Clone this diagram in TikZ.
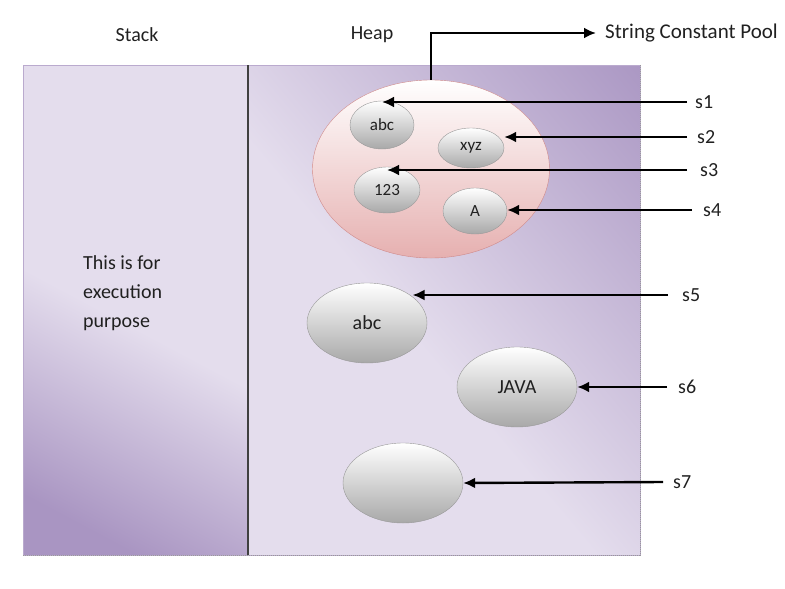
\documentclass[tikz,border=0pt]{standalone}
\usepackage{fontspec}
\setmainfont{Carlito}
\usetikzlibrary{shapes.geometric, arrows.meta}

\definecolor{lilacD}{HTML}{A995C2}
\definecolor{lilacL}{HTML}{E4DDED}
\definecolor{poolD}{HTML}{E6B0B0}
\definecolor{poolB}{HTML}{D08A8A}
\definecolor{ink}{HTML}{202020}

\pgfdeclareverticalshading{stackfade}{100bp}{color(0bp)=(lilacD); color(36.5bp)=(lilacD); color(49bp)=(lilacL); color(100bp)=(lilacL)}
\pgfdeclareverticalshading{heapfade}{100bp}{color(0bp)=(lilacL); color(47.4bp)=(lilacL); color(70bp)=(lilacD); color(100bp)=(lilacD)}

\tikzset{
  cell/.style={ellipse, draw=gray!80, top color=white, bottom color=gray!68, inner sep=0pt, text=ink},
  ref/.style={line width=2.4pt, -{Latex[length=12pt, width=11pt]}},
  lbl/.style={anchor=west, inner xsep=10pt, text=ink, font=\fontsize{20}{22}\selectfont},
  ttl/.style={text=ink, font=\fontsize{20}{22}\selectfont},
}

\begin{document}
\begin{tikzpicture}[x=1pt, y=-1pt]
    \useasboundingbox (0,0) rectangle (785,589);

    % Stack
    \begin{scope}
      \clip (23,65) rectangle (248,555);
      \shade [shading=stackfade, transform canvas={rotate around={-28:(136,310)}}] (-264,-90) rectangle (536,710);
    \end{scope}

    % Heap
    \begin{scope}
      \clip (248,65) rectangle (640,555);
      \shade [shading=heapfade, transform canvas={rotate around={-50:(444,310)}}] (44,-90) rectangle (844,710);
    \end{scope}
    \draw [lilacD!80, line width=0.8pt] (23,65) rectangle (640,555);
    \draw [gray!80, densely dotted, line width=1pt] (23,555) -- (640,555) -- (640,65);
    \draw [black!75, line width=1.2pt] (248,65) -- (248,555);
    \node [ttl] (stack) at (137,35) {Stack};
    \node [ttl] (heap) at (372,35) {Heap};
    \node [ttl, anchor=north west, inner sep=0pt, align=left, font=\fontsize{20}{29}\selectfont] (note) at (83,255) {This is for\\execution\\purpose};

    % String Constant Pool
    \node [ellipse, draw=poolB, top color=white, bottom color=poolD, minimum width=237pt, minimum height=178pt] (pool) at (431,169) {};
    \node [ttl, anchor=west, inner xsep=9pt, font=\fontsize{21}{23}\selectfont] (scp) at (596,33) {String Constant Pool};
    \draw [ref] (pool.north) |- (scp.west);

    \node [cell, minimum width=64pt, minimum height=48pt, font=\fontsize{17}{19}\selectfont] (abc) at (382,125) {abc};
    \node [cell, minimum width=66pt, minimum height=40pt, font=\fontsize{17}{19}\selectfont] (xyz) at (471,148) {xyz};
    \node [cell, minimum width=66pt, minimum height=46pt, font=\fontsize{17}{19}\selectfont] (n123) at (387,190) {123};
    \node [cell, minimum width=64pt, minimum height=46pt, font=\fontsize{17}{19}\selectfont] (A) at (475,211) {A};

    % objects outside the pool
    \node [cell, minimum width=120pt, minimum height=80pt, font=\fontsize{20}{22}\selectfont] (abcB) at (367,323) {abc};
    \node [cell, minimum width=120pt, minimum height=80pt, font=\fontsize{20}{22}\selectfont] (JAVA) at (517,387) {JAVA};
    \node [cell, minimum width=120pt, minimum height=80pt] (blank) at (403,483) {};

    % references
    \node [lbl, inner xsep=8pt] (s1) at (687,102) {s1};
    \node [lbl] (s2) at (687,137) {s2};
    \node [lbl, inner xsep=13pt] (s3) at (687,170) {s3};
    \node [lbl, inner xsep=11pt] (s4) at (692,210) {s4};
    \node [lbl, inner xsep=14pt] (s5) at (668,295) {s5};
    \node [lbl, inner xsep=11pt] (s6) at (667,387) {s6};
    \node [lbl] (s7) at (663,482) {s7};

    \draw [ref] (s1.west) -- (s1.west -| abc.north);
    \draw [ref] (s2.west) -- (s2.west -| xyz.east);
    \draw [ref] (s3.west) -- (s3.west -| n123.north);
    \draw [ref] (s4.west) -- (s4.west -| A.east);
    \draw [ref] (s5.west) -- (s5.west -| abcB.30);
    \draw [ref] (s6.west) -- (JAVA.east);
    \draw [ref] (s7.west) -- (blank.east);

\end{tikzpicture}
\end{document}
